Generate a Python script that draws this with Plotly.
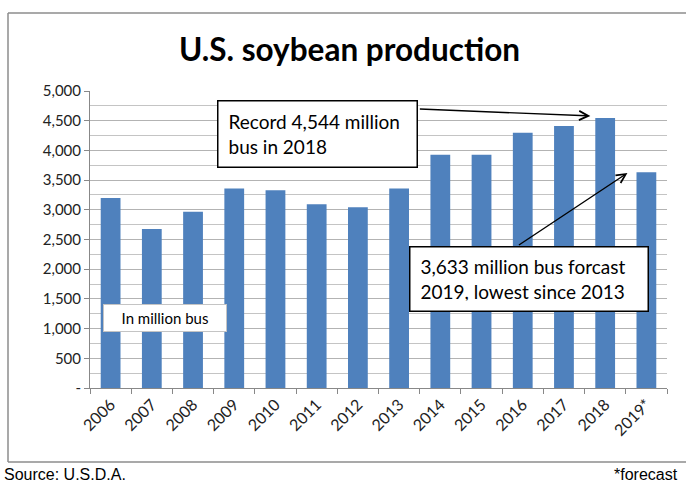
import plotly.graph_objects as go

years = ["2006", "2007", "2008", "2009", "2010", "2011", "2012", "2013",
         "2014", "2015", "2016", "2017", "2018", "2019*"]
production = [3197, 2677, 2967, 3359, 3329, 3094, 3042, 3357,
              3927, 3926, 4296, 4412, 4544, 3633]
y_ticks = [0, 500, 1000, 1500, 2000, 2500, 3000, 3500, 4000, 4500, 5000]
y_tick_text = ["-"] + [f"{v:,}" for v in y_ticks[1:]]

W, H = 686, 484
L, R, T, B = 90, 667, 91, 388
FONT = "Lato"


def px(x):
    return (x - L) / (R - L)


def py(y):
    return (B - y) / (B - T)


fig = go.Figure(go.Bar(x=years, y=production, marker=dict(color="#4f81bd", line=dict(width=0)),
                       hoverinfo="x+y"))

fig.update_layout(
    width=W, height=H,
    margin=dict(l=L, r=W - R, t=T, b=H - B),
    paper_bgcolor="white", plot_bgcolor="white",
    bargap=0.52, showlegend=False,
    font=dict(family=FONT, size=15, color="#222"),
)

fig.update_xaxes(
    type="category", tickangle=-45, ticks="outside", tickson="boundaries",
    ticklen=5, tickcolor="#888", showline=True, linecolor="#888", linewidth=1,
    showgrid=False, tickfont=dict(family=FONT, size=16, color="#222"),
)
fig.update_yaxes(
    range=[0, 5000], tickvals=y_ticks, ticktext=y_tick_text,
    ticks="outside", ticklen=5, tickcolor="#888",
    showline=True, linecolor="#888", linewidth=1,
    showgrid=True, gridcolor="#b3b3b3", gridwidth=1,
    minor=dict(dtick=250, showgrid=True, gridcolor="#c4c4c4", gridwidth=1),
    zeroline=False, tickfont=dict(family=FONT, size=15, color="#222"),
)

# outer frame: top, left and bottom edges (right side runs off the page)
frame = dict(color="#8c8c8c", width=1.5)
for (x0, y0, x1, y1) in [(8, 13, 700, 13), (8, 13, 8, 462), (8, 462, 700, 462)]:
    fig.add_shape(type="line", xref="paper", yref="paper",
                  x0=px(x0), y0=py(y0), x1=px(x1), y1=py(y1), line=frame, layer="below")

annotations = [
    dict(text="<b>U.S. soybean production</b>", xref="paper", yref="paper",
         x=px(349), y=py(49), xanchor="center", yanchor="middle", showarrow=False,
         font=dict(family=FONT, size=31.5, color="black")),
    dict(text="Record 4,544 million<br>bus in 2018", xref="paper", yref="paper",
         x=px(317.5), y=py(134), xanchor="center", yanchor="middle", showarrow=False,
         align="left", width=178, height=45, borderpad=10,
         bordercolor="black", borderwidth=1.5, bgcolor="white",
         font=dict(family=FONT, size=19, color="black")),
    dict(text="3,633 million bus forcast<br>2019, lowest since 2013", xref="paper", yref="paper",
         x=px(529), y=py(279), xanchor="center", yanchor="middle", showarrow=False,
         align="left", width=217, height=43, borderpad=10,
         bordercolor="black", borderwidth=1.5, bgcolor="white",
         font=dict(family=FONT, size=19, color="black")),
    dict(text="In million bus", xref="paper", yref="paper",
         x=px(165), y=py(317.5), xanchor="center", yanchor="middle", showarrow=False,
         align="center", width=118, height=22, borderpad=2,
         bordercolor="#c4c4c4", borderwidth=1, bgcolor="white",
         font=dict(family=FONT, size=15, color="black")),
    # arrows
    dict(text="", x=11.64, y=4580, xref="x", yref="y", showarrow=True,
         axref="pixel", ayref="pixel", ax=-172, ay=-7,
         arrowhead=5, arrowsize=1.3, arrowwidth=1.4, arrowcolor="black"),
    dict(text="", x=12.54, y=3620, xref="x", yref="y", showarrow=True,
         axref="pixel", ayref="pixel", ax=-110, ay=73,
         arrowhead=5, arrowsize=1.3, arrowwidth=1.4, arrowcolor="black"),
    # footer
    dict(text="Source: U.S.D.A.", xref="paper", yref="paper", x=px(2), y=py(474),
         xanchor="left", yanchor="middle", showarrow=False,
         font=dict(family="Liberation Sans", size=16, color="black")),
    dict(text="*forecast", xref="paper", yref="paper", x=px(612), y=py(474),
         xanchor="left", yanchor="middle", showarrow=False,
         font=dict(family="Liberation Sans", size=16, color="black")),
]
fig.update_layout(annotations=annotations)

fig.write_html("out.html", config={"displayModeBar": False},
               post_script="document.body.style.margin='0';document.body.style.overflow='hidden';")
